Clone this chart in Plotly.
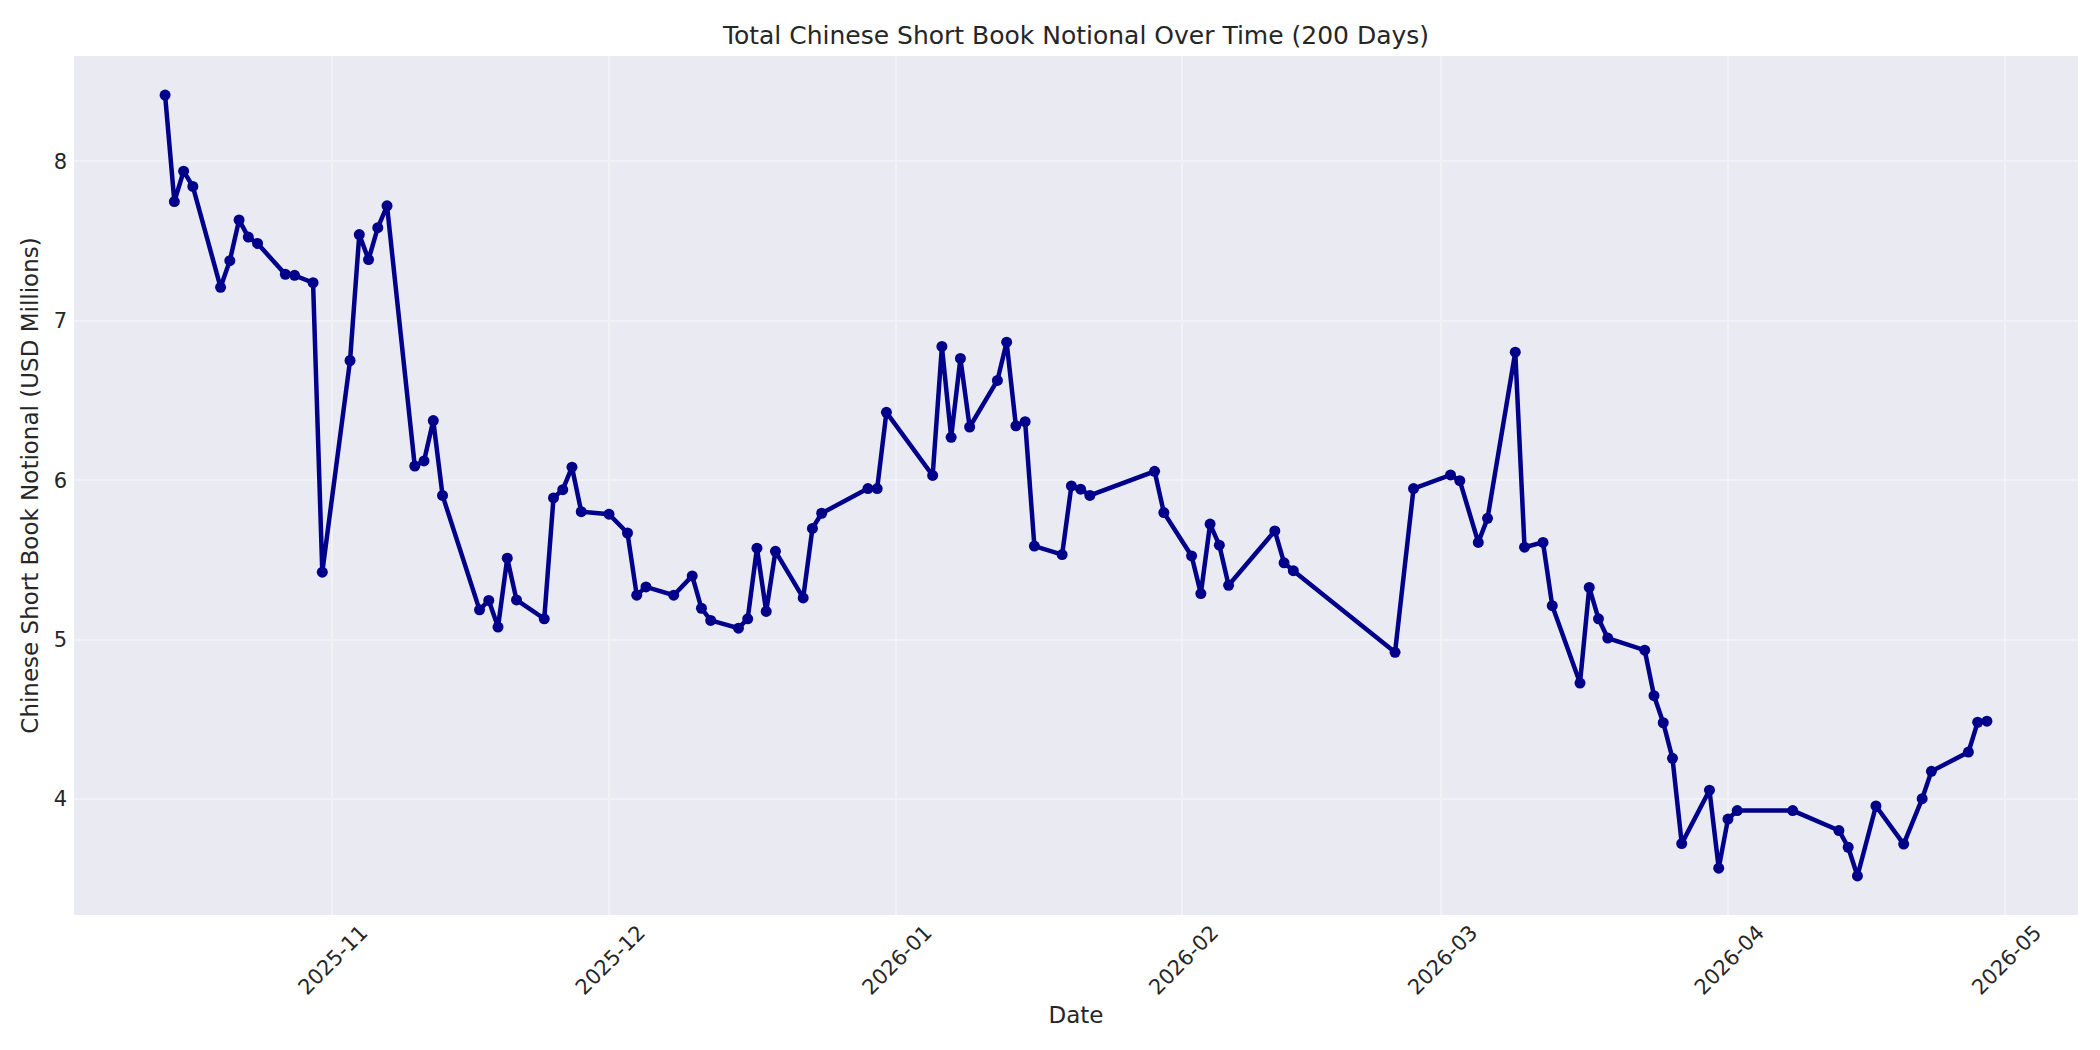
import pandas as pd
import plotly.graph_objects as go

# Daily totals (USD millions)
dates = [
    "2025-10-14", "2025-10-15", "2025-10-16", "2025-10-17", "2025-10-20",
    "2025-10-21", "2025-10-22", "2025-10-23", "2025-10-24", "2025-10-27",
    "2025-10-28", "2025-10-30", "2025-10-31", "2025-11-03", "2025-11-04",
    "2025-11-05", "2025-11-06", "2025-11-07", "2025-11-10", "2025-11-11",
    "2025-11-12", "2025-11-13", "2025-11-17", "2025-11-18", "2025-11-19",
    "2025-11-20", "2025-11-21", "2025-11-24", "2025-11-25", "2025-11-26",
    "2025-11-27", "2025-11-28", "2025-12-01", "2025-12-03", "2025-12-04",
    "2025-12-05", "2025-12-08", "2025-12-10", "2025-12-11", "2025-12-12",
    "2025-12-15", "2025-12-16", "2025-12-17", "2025-12-18", "2025-12-19",
    "2025-12-22", "2025-12-23", "2025-12-24", "2025-12-29", "2025-12-30",
    "2025-12-31", "2026-01-05", "2026-01-06", "2026-01-07", "2026-01-08",
    "2026-01-09", "2026-01-12", "2026-01-13", "2026-01-14", "2026-01-15",
    "2026-01-16", "2026-01-19", "2026-01-20", "2026-01-21", "2026-01-22",
    "2026-01-29", "2026-01-30", "2026-02-02", "2026-02-03", "2026-02-04",
    "2026-02-05", "2026-02-06", "2026-02-11", "2026-02-12", "2026-02-13",
    "2026-02-24", "2026-02-26", "2026-03-02", "2026-03-03", "2026-03-05",
    "2026-03-06", "2026-03-09", "2026-03-10", "2026-03-12", "2026-03-13",
    "2026-03-16", "2026-03-17", "2026-03-18", "2026-03-19", "2026-03-23",
    "2026-03-24", "2026-03-25", "2026-03-26", "2026-03-27", "2026-03-30",
    "2026-03-31", "2026-04-01", "2026-04-02", "2026-04-08", "2026-04-13",
    "2026-04-14", "2026-04-15", "2026-04-17", "2026-04-20", "2026-04-22",
    "2026-04-23", "2026-04-27", "2026-04-28", "2026-04-29",
]
notional = [
    8.416, 7.748, 7.938, 7.843, 7.210,
    7.377, 7.633, 7.525, 7.485, 7.292,
    7.285, 7.239, 5.423, 6.751, 7.541,
    7.384, 7.584, 7.721, 6.089, 6.121,
    6.374, 5.905, 5.187, 5.246, 5.079,
    5.511, 5.249, 5.131, 5.889, 5.941,
    6.082, 5.803, 5.787, 5.669, 5.279,
    5.331, 5.279, 5.400, 5.197, 5.121,
    5.072, 5.131, 5.574, 5.177, 5.554,
    5.262, 5.698, 5.793, 5.948, 5.948,
    6.426, 6.030, 6.839, 6.269, 6.764,
    6.334, 6.626, 6.866, 6.341, 6.367,
    5.587, 5.534, 5.964, 5.944, 5.905,
    6.056, 5.797, 5.525, 5.289, 5.725,
    5.593, 5.341, 5.682, 5.482, 5.433,
    4.921, 5.948, 6.033, 5.997, 5.610,
    5.761, 6.803, 5.580, 5.610, 5.213,
    4.728, 5.328, 5.131, 5.010, 4.934,
    4.649, 4.479, 4.256, 3.721, 4.056,
    3.567, 3.875, 3.928, 3.928, 3.803,
    3.698, 3.518, 3.957, 3.718, 4.003,
    4.174, 4.295, 4.482, 4.489,
]

TITLE = "Total Chinese Short Book Notional Over Time (200 Days)"
XLABEL = "Date"
YLABEL = "Chinese Short Book Notional (USD Millions)"

INK = "#262626"
LINE = "#00008B"
BG = "#EAEAF2"
GRID = "#F1F1F6"
FONT = "DejaVu Sans, Liberation Sans, sans-serif"

# the page body adds an 8px offset, so margins are shifted to compensate
OFF = 8

x = pd.to_datetime(dates)
# matplotlib-like 5% auto margins
xpad = (x.max() - x.min()) * 0.05
ypad = (max(notional) - min(notional)) * 0.05

fig = go.Figure()
fig.add_trace(go.Scatter(
    x=x, y=notional, mode="lines+markers",
    line=dict(color=LINE, width=4.5),
    marker=dict(color=LINE, size=11),
    showlegend=False,
))

fig.update_layout(
    width=2100, height=1050,
    paper_bgcolor="white", plot_bgcolor=BG,
    font=dict(family=FONT, size=21, color=INK),
    margin=dict(l=74 - OFF, r=22 + OFF, t=56 - OFF, b=135 + OFF,
                autoexpand=False),
    title=dict(text=TITLE, x=0.5, xref="paper", xanchor="center",
               y=1 - (35 - OFF) / 1050, yanchor="middle",
               font=dict(size=25, color=INK)),
)
fig.update_xaxes(
    range=[x.min() - xpad, x.max() + xpad],
    tick0="2025-11-01", dtick="M1", tickformat="%Y-%m",
    tickangle=-45, ticklabelshift=30, ticks="",
    showgrid=True, gridcolor=GRID, gridwidth=2,
    zeroline=False, showline=False,
    title=dict(text=XLABEL, font=dict(size=23, color=INK), standoff=8),
)
fig.update_yaxes(
    range=[min(notional) - ypad, max(notional) + ypad],
    dtick=1, ticks="", ticklabelstandoff=6,
    showgrid=True, gridcolor=GRID, gridwidth=2,
    zeroline=False, showline=False,
    title=dict(text=YLABEL, font=dict(size=23, color=INK), standoff=8),
)

fig.write_html("out.html")
